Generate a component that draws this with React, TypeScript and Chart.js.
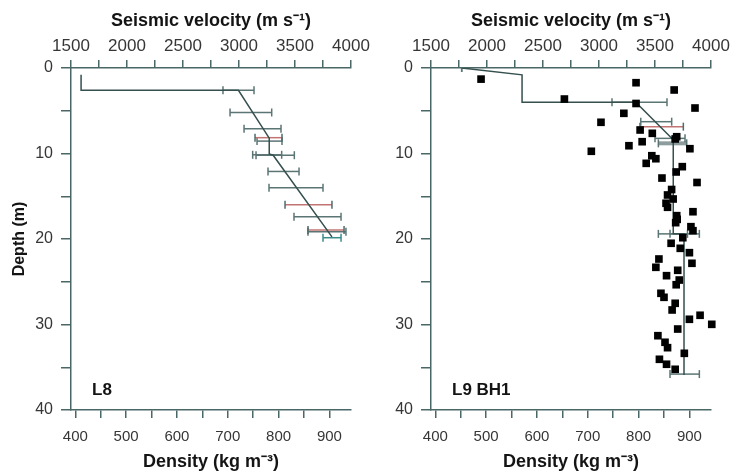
import React, { useEffect, useRef } from "react";
import { Chart, registerables } from "chart.js";

Chart.register(...registerables);

// ---------- tick values ----------
const depthTicks = [0, 5, 10, 15, 20, 25, 30, 35, 40];
const velocityTicks = [1500, 1750, 2000, 2250, 2500, 2750, 3000, 3250, 3500, 3750, 4000];
const densityTicks = [400, 450, 500, 550, 600, 650, 700, 750, 800, 850, 900];

// ---------- L8 ----------
const l8ProfileVelocity = [1590, 1590, 2995, 3270, 3270, 3305, 3830];
const l8ProfileDepth = [0.8, 2.6, 2.6, 8.2, 10.05, 10.2, 19.75];
const l8BarDepth = [2.6, 5.2, 7.1, 8.15, 8.55, 10.15, 10.2, 12.1, 14.0, 16.0, 17.4, 18.95, 19.15, 19.85];
const l8BarLow = [2857, 2920, 3045, 3143, 3161, 3122, 3152, 3259, 3268, 3411, 3491, 3616, 3616, 3750];
const l8BarHigh = [3134, 3292, 3375, 3384, 3384, 3381, 3494, 3536, 3750, 3830, 3911, 3938, 3955, 3911];
const l8RedBars = [3, 9, 11];
const l8TealBars = [13];

// ---------- L9 BH1 ----------
const bh1ProfileVelocity = [1774, 2313, 2313, 3328, 3663, 3663, 3759, 3759];
const bh1ProfileDepth = [0, 0.8, 4.0, 4.0, 8.4, 19.4, 19.4, 35.9];
const bh1BarDepth = [0, 4.0, 6.28, 6.86, 8.23, 8.81, 19.4, 19.4, 35.8];
const bh1BarLow = [1774, 3116, 3373, 3366, 3500, 3530, 3530, 3634, 3634];
const bh1BarHigh = [1774, 3607, 3649, 3753, 3768, 3783, 3790, 3896, 3896];
const bh1RedBars = [3];
const bh1ThickBars = [5];

const bh1Density = [
  490, 795, 870, 654, 795, 911, 771, 726, 803, 827, 875, 872, 807, 781, 901, 707, 826, 834, 815, 886,
  874, 846, 915, 865, 857, 868, 854, 857, 907, 875, 876, 873, 903, 907, 887, 864, 882, 900, 840, 905,
  834, 877, 855, 880, 874, 844, 850, 872, 866, 921, 900, 944, 877, 838, 852, 857, 890, 841, 855, 872,
];
const bh1DensityDepth = [
  1.3, 1.72, 2.57, 3.63, 4.15, 4.68, 5.3, 6.35, 7.25, 7.64, 8.04, 8.3, 8.62, 9.09, 9.44, 9.74, 10.26, 10.61, 11.15, 11.54,
  12.16, 12.87, 13.39, 14.21, 14.85, 15.32, 15.82, 16.29, 16.81, 17.27, 17.7, 18.09, 18.56, 19.03, 19.85, 20.5, 21.09, 21.6, 22.34, 22.84,
  23.31, 23.66, 24.29, 24.8, 25.35, 26.35, 26.82, 27.52, 28.3, 28.92, 29.39, 29.98, 30.53, 31.31, 32.08, 32.71, 33.37, 34.07, 34.65, 35.24,
];

const panelLabels = ["L8", "L9 BH1"];
const velocityTitle = "Seismic velocity (m s\u207B\u00B9)";
const densityTitle = "Density (kg m\u207B\u00B3)";
const depthTitle = "Depth (m)";

// ---------- styles ----------
const FONT = "'Liberation Sans', Arial, Helvetica, sans-serif";
const AXIS = "#4a6767";
const LABEL = "#363636";
const TITLE = "#141414";
const BAR = "#5b7575";
const BAR_RED = "#c27474";
const BAR_TEAL = "#3a8c8c";
const PROFILE = "#364f4f";

const panelLabelPlugin = {
  id: "panelLabel",
  afterDraw(chart: any, _args: any, opts: any) {
    const { ctx, chartArea } = chart;
    ctx.save();
    ctx.font = `bold 17px ${FONT}`;
    ctx.fillStyle = TITLE;
    ctx.textBaseline = "alphabetic";
    ctx.textAlign = "left";
    ctx.fillText(opts.text, chartArea.left + 21, chartArea.bottom - 15);
    ctx.restore();
  },
};

type Panel = {
  profV: number[];
  profD: number[];
  barD: number[];
  barLo: number[];
  barHi: number[];
  red: number[];
  teal: number[];
  thick: number[];
  dens?: number[];
  densD?: number[];
  label: string;
  yWidth: number;
  showDepthTitle: boolean;
  padRight: number;
};

function buildConfig(p: Panel): any {
  const datasets: any[] = [];
  if (p.dens && p.densD) {
    datasets.push({
      data: p.dens.map((v, i) => ({ x: v, y: p.densD![i] })),
      xAxisID: "x",
      yAxisID: "y",
      pointStyle: "rect",
      pointRadius: 5.4,
      backgroundColor: "#000000",
      borderWidth: 0,
      pointBorderWidth: 0,
      showLine: false,
      clip: false,
    });
  }
  datasets.push({
    data: p.profV.map((v, i) => ({ x: v, y: p.profD[i] })),
    xAxisID: "x2",
    yAxisID: "y",
    showLine: true,
    borderColor: PROFILE,
    borderWidth: 1.5,
    pointRadius: 0,
    fill: false,
    tension: 0,
  });
  p.barD.forEach((d, i) => {
    const color = p.red.includes(i) ? BAR_RED : p.teal.includes(i) ? BAR_TEAL : BAR;
    const thick = p.thick.includes(i);
    datasets.push({
      data: [
        { x: p.barLo[i], y: d },
        { x: p.barHi[i], y: d },
      ],
      xAxisID: "x2",
      yAxisID: "y",
      showLine: true,
      borderColor: thick ? "#8d9c9c" : color,
      borderWidth: thick ? 4 : 1.5,
      pointStyle: "line",
      pointRotation: 90,
      pointRadius: 4,
      pointBorderColor: p.red.includes(i) ? "#4d6b6b" : color,
      pointBorderWidth: 1.5,
      fill: false,
    });
  });

  const gridCommon = {
    display: true,
    drawOnChartArea: false,
    drawTicks: true,
    color: AXIS,
    lineWidth: 1.5,
  };
  const borderCommon = { display: true, color: AXIS, width: 1.5 };

  return {
    type: "scatter",
    data: { datasets },
    plugins: [panelLabelPlugin],
    options: {
      responsive: false,
      animation: false,
      devicePixelRatio: 1,
      events: [],
      layout: { padding: { left: 0, top: 0, right: p.padRight, bottom: 0 } },
      plugins: {
        legend: { display: false },
        tooltip: { enabled: false },
        panelLabel: { text: p.label },
      },
      scales: {
        x: {
          type: "linear",
          position: "bottom",
          min: 391.5,
          max: 942.5,
          afterBuildTicks: (s: any) => {
            s.ticks = densityTicks.map((v) => ({ value: v }));
          },
          afterFit: (s: any) => {
            s.height = 65;
            s.paddingLeft = 0;
            s.paddingRight = 0;
          },
          ticks: {
            autoSkip: false,
            maxRotation: 0,
            padding: 10,
            color: LABEL,
            font: { family: FONT, size: 15 },
            callback: (v: any) => (Number(v) % 100 === 0 ? String(v) : ""),
          },
          grid: { ...gridCommon, tickLength: 8 },
          border: borderCommon,
          title: {
            display: true,
            text: densityTitle,
            color: TITLE,
            font: { family: FONT, size: 18, weight: "bold" },
            padding: { top: 0, bottom: 2 },
          },
        },
        x2: {
          type: "linear",
          axis: "x",
          position: "top",
          min: 1500,
          max: 4000,
          afterBuildTicks: (s: any) => {
            s.ticks = velocityTicks.map((v) => ({ value: v }));
          },
          afterFit: (s: any) => {
            s.height = 68;
            s.paddingLeft = 0;
            s.paddingRight = 0;
          },
          ticks: {
            autoSkip: false,
            maxRotation: 0,
            padding: 3,
            color: LABEL,
            font: { family: FONT, size: 17 },
            callback: (v: any) => (Number(v) % 500 === 0 ? String(v) : ""),
          },
          grid: { ...gridCommon, tickLength: 8 },
          border: borderCommon,
          title: {
            display: true,
            text: velocityTitle,
            color: TITLE,
            font: { family: FONT, size: 18, weight: "bold" },
            padding: { top: 10, bottom: 0 },
          },
        },
        y: {
          type: "linear",
          position: "left",
          reverse: true,
          min: 0,
          max: 40,
          afterBuildTicks: (s: any) => {
            s.ticks = depthTicks.map((v) => ({ value: v }));
          },
          afterFit: (s: any) => {
            s.width = p.yWidth;
            s.paddingTop = 0;
            s.paddingBottom = 0;
          },
          ticks: {
            autoSkip: false,
            padding: 8,
            color: LABEL,
            font: { family: FONT, size: 16 },
            callback: (v: any) => (Number(v) % 10 === 0 ? String(v) : ""),
          },
          grid: { ...gridCommon, tickLength: 10 },
          border: borderCommon,
          title: {
            display: p.showDepthTitle,
            text: depthTitle,
            color: TITLE,
            font: { family: FONT, size: 16, weight: "bold" },
            padding: { top: 10, bottom: 0 },
          },
        },
      },
    },
  };
}

export default function App() {
  const leftRef = useRef<HTMLCanvasElement | null>(null);
  const rightRef = useRef<HTMLCanvasElement | null>(null);

  useEffect(() => {
    Chart.defaults.font.family = FONT;
    const left = new Chart(
      leftRef.current as HTMLCanvasElement,
      buildConfig({
        profV: l8ProfileVelocity,
        profD: l8ProfileDepth,
        barD: l8BarDepth,
        barLo: l8BarLow,
        barHi: l8BarHigh,
        red: l8RedBars,
        teal: l8TealBars,
        thick: [],
        label: panelLabels[0],
        yWidth: 71,
        showDepthTitle: true,
        padRight: 19,
      })
    );
    const right = new Chart(
      rightRef.current as HTMLCanvasElement,
      buildConfig({
        profV: bh1ProfileVelocity,
        profD: bh1ProfileDepth,
        barD: bh1BarDepth,
        barLo: bh1BarLow,
        barHi: bh1BarHigh,
        red: bh1RedBars,
        teal: [],
        thick: bh1ThickBars,
        dens: bh1Density,
        densD: bh1DensityDepth,
        label: panelLabels[1],
        yWidth: 61,
        showDepthTitle: false,
        padRight: 20,
      })
    );
    return () => {
      left.destroy();
      right.destroy();
    };
  }, []);

  return (
    <div
      style={{
        position: "fixed",
        left: 0,
        top: 0,
        width: 731,
        height: 475,
        background: "#ffffff",
      }}
    >
      <canvas
        ref={leftRef}
        width={370}
        height={475}
        style={{ position: "absolute", left: 0, top: 0, width: 370, height: 475 }}
      />
      <canvas
        ref={rightRef}
        width={361}
        height={475}
        style={{ position: "absolute", left: 370, top: 0, width: 361, height: 475 }}
      />
    </div>
  );
}
